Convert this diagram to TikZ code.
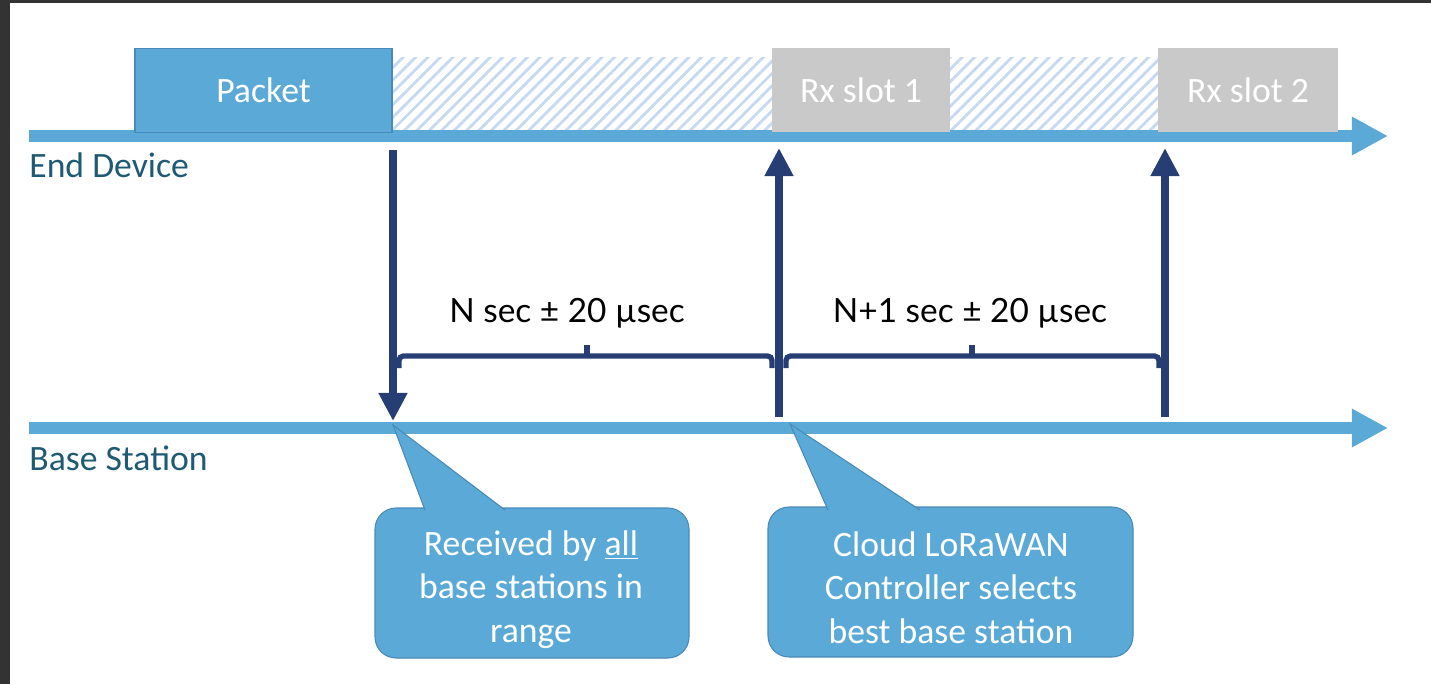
\documentclass[tikz,border=0pt]{standalone}
\usepackage{fontspec}
\setmainfont{Carlito}
\newfontfamily\latofont{Lato}
\usetikzlibrary{arrows.meta,positioning,patterns.meta}

\definecolor{lineblue}{HTML}{5BA9D6}
\definecolor{boxedge}{HTML}{4A8AB8}
\definecolor{slotgrey}{HTML}{C9C9C9}
\definecolor{hatchblue}{HTML}{C6D9F0}
\definecolor{navy}{HTML}{263E73}
\definecolor{lanetext}{HTML}{1F5A74}
\definecolor{framegrey}{HTML}{333333}

\newcommand{\pxl}{0.02cm}
\newcommand{\bigtext}{\fontsize{20.3}{24.7}\selectfont}

\begin{document}
\begin{tikzpicture}[x=0.02cm, y=-0.02cm,
  timeline/.style={draw=lineblue, line width=6.8pt, -{Triangle[width=20.5pt,length=20.5pt]}},
  signal/.style={draw=navy, line width=4.5pt, -{Triangle[width=15.5pt,length=16pt]}},
  bracket/.style={draw=navy, line width=3pt, rounded corners=2.5pt},
  waitarea/.style={pattern={Lines[angle=45,distance=5pt,line width=1.6pt]}, pattern color=hatchblue},
  callout/.style={fill=lineblue, draw=boxedge, line width=0.6pt}]
\useasboundingbox (0,0) rectangle (1431,684);
\fill[framegrey] (0,0) rectangle (10,684); %%
\fill[framegrey] (0,0) rectangle (1431,3); %%
% waiting times
\fill[waitarea] (392,57) rectangle (772,130); %%
\fill[waitarea] (950,57) rectangle (1158,130); %%
% time lines
\coordinate (ed0) at (29,136); \coordinate (ed1) at (1388,136); %%
\coordinate (bs0) at (29,428); \coordinate (bs1) at (1388,428); %%
\draw[timeline] (ed0) -- (ed1); %%
\draw[timeline] (bs0) -- (bs1); %%
\begin{scope}[inner sep=0pt, font=\bigtext]
\tikzstyle{every node}=[text=lanetext, anchor=base west] %%
\node (edlabel) at (29,177) {End Device}; %%
\node (bslabel) at (29,470) {Base Station};
\end{scope}
% boxes on the end device line
\begin{scope}[inner sep=0pt, font=\bigtext, text=white, minimum height=84*\pxl]
\node[fill=lineblue, draw=boxedge, line width=0.8pt, minimum width=257*\pxl] (packet) at (263.5,90.5) {Packet}; %%
\node[fill=slotgrey, minimum width=178*\pxl] (slot1) at (861,90) {Rx slot 1}; %%
\node[fill=slotgrey, minimum width=180*\pxl] (slot2) at (1248,90) {Rx slot 2};
\end{scope}
% uplink and receive windows
\coordinate (tx0) at (393,150); \coordinate (tx1) at (393,421); %%
\coordinate (w10) at (779,417); \coordinate (w11) at (779,148); %%
\coordinate (w20) at (1165,417); \coordinate (w21) at (1165,148); %%
\draw[signal] (tx0) -- (tx1); %%
\draw[signal] (w10) -- (w11); %%
\draw[signal] (w20) -- (w21); %%
% delays
\coordinate (d1a) at (399,368); \coordinate (d1b) at (772,368); %%
\coordinate (d2a) at (786,368); \coordinate (d2b) at (1159,368); %%
\draw[bracket] (d1a) -- ++(0,-12) -| (d1b); %%
\draw[bracket] (d2a) -- ++(0,-12) -| (d2b); %%
\draw[navy, line width=3pt] (587,357) -- (587,345); %%
\draw[navy, line width=3pt] (972,357) -- (972,345); %%
\node[font=\latofont\fontsize{19}{22}\selectfont, anchor=base, inner sep=0pt] (delay1) at (567,322) {N sec ± 20 µsec}; %%
\node[font=\latofont\fontsize{19}{22}\selectfont, anchor=base, inner sep=0pt] (delay2) at (970,322) {N+1 sec ± 20 µsec}; %%
% notes below the base station line
\node[callout, rounded corners=12pt, minimum width=314*\pxl, minimum height=150*\pxl] (note1) at (532,583) {}; %%
\node[callout, rounded corners=12pt, minimum width=365*\pxl, minimum height=150*\pxl] (note2) at (950.5,582) {}; %%
\coordinate (hit1) at (393,425); \coordinate (hit2) at (790,424); %%
\filldraw[callout] (425,510) -- (hit1) -- (505,510); %%
\filldraw[callout] (828,510) -- (hit2) -- (920,510); %%
\node[font=\bigtext, text=white, align=center, inner sep=0pt] at (531,589.5) (text1) {Received by \underline{all}\\base stations in\\range}; %%
\node[font=\bigtext, text=white, align=center, inner sep=0pt] at (951,587.5) (text2) {Cloud LoRaWAN\\Controller selects\\best base station};
\end{tikzpicture}
\end{document}
